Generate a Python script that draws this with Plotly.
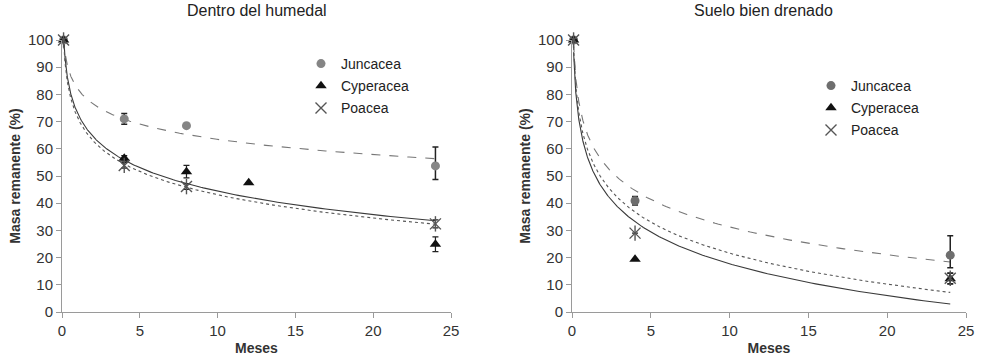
import numpy as np
import plotly.graph_objects as go

# ---------------- data ----------------
# Left panel: "Dentro del humedal"
L_jun_x = [0.1, 4, 8, 24]
L_jun_y = [100, 71, 68.5, 53.7]
L_jun_ep = [0, 2, 0, 7]
L_jun_em = [0, 2, 0, 5]

L_cyp_x = [0.1, 4, 8, 12, 24]
L_cyp_y = [100, 56.5, 51.6, 47.5, 24.9]
L_cyp_e = [0, 1, 2.3, 0, 2.7]

L_poa_x = [0.1, 4, 8, 24]
L_poa_y = [100, 53.9, 46.1, 32.4]
L_poa_e = [0, 1, 1, 1.5]

# Right panel: "Suelo bien drenado"
R_jun_x = [0.1, 4, 24]
R_jun_y = [100, 40.9, 20.9]
R_jun_ep = [0, 1.6, 7.1]
R_jun_em = [0, 1.6, 4.6]

R_cyp_x = [0.1, 4, 24]
R_cyp_y = [100, 19.4, 12.2]
R_cyp_e = [0, 0, 2]

R_poa_x = [0.1, 4, 24]
R_poa_y = [100, 29.0, 12.4]
R_poa_e = [0, 0, 2]

titles = ["Dentro del humedal", "Suelo bien drenado"]
names = ["Juncacea", "Cyperacea", "Poacea"]
x_ticks = [0, 5, 10, 15, 20, 25]
y_ticks = [0, 10, 20, 30, 40, 50, 60, 70, 80, 90, 100]

# ---------------- styles ----------------
FONT = "Liberation Sans, Arial, sans-serif"
C_JUN = ["#858585", "#6e6e6e"]
C_CYP = "#111111"
C_POA = "#555555"
C_ERR = "#222222"
AXC = "#9a9a9a"


def log_trend(xs, ys):
    b, a = np.polyfit(np.log(xs), ys, 1)
    xx = np.geomspace(min(xs), max(xs), 300)
    return xx, a + b * np.log(xx)


fig = go.Figure()

panels = [
    ("x", "y", "legend", C_JUN[0],
     (L_jun_x, L_jun_y, L_jun_ep, L_jun_em),
     (L_cyp_x, L_cyp_y, L_cyp_e),
     (L_poa_x, L_poa_y, L_poa_e)),
    ("x2", "y2", "legend2", C_JUN[1],
     (R_jun_x, R_jun_y, R_jun_ep, R_jun_em),
     (R_cyp_x, R_cyp_y, R_cyp_e),
     (R_poa_x, R_poa_y, R_poa_e)),
]

for xa, ya, lg, cj, jun, cyp, poa in panels:
    # trendlines
    for (xs, ys), col, dash in [((jun[0], jun[1]), "#777777", "dash"),
                                ((cyp[0], cyp[1]), "#3a3a3a", "solid"),
                                ((poa[0], poa[1]), "#555555", "dot")]:
        tx, ty = log_trend(xs, ys)
        fig.add_trace(go.Scatter(x=tx, y=ty, mode="lines", xaxis=xa, yaxis=ya,
                                 line=dict(color=col, width=1.1, dash=dash),
                                 showlegend=False, hoverinfo="skip"))
    # Juncacea
    fig.add_trace(go.Scatter(
        x=jun[0], y=jun[1], mode="markers", name=names[0], xaxis=xa, yaxis=ya,
        legend=lg, legendgroup=lg + "a", cliponaxis=False,
        marker=dict(symbol="circle", size=9, color=cj),
        error_y=dict(type="data", array=jun[2], arrayminus=jun[3], symmetric=False,
                     color=C_ERR, thickness=1.5, width=3)))
    # Cyperacea
    fig.add_trace(go.Scatter(
        x=cyp[0], y=cyp[1], mode="markers", name=names[1], xaxis=xa, yaxis=ya,
        legend=lg, legendgroup=lg + "b", cliponaxis=False,
        marker=dict(symbol="triangle-up", size=10, color=C_CYP),
        error_y=dict(type="data", array=cyp[2], color=C_ERR, thickness=1.2, width=3)))
    # Poacea (x + vertical stroke)
    fig.add_trace(go.Scatter(
        x=poa[0], y=poa[1], mode="markers", name=names[2], xaxis=xa, yaxis=ya,
        legend=lg, legendgroup=lg + "c", cliponaxis=False,
        marker=dict(symbol="x-thin-open", size=11, color=C_POA,
                    line=dict(width=1.4, color=C_POA)),
        error_y=dict(type="data", array=poa[2], color=C_ERR, thickness=1.2, width=3)))
    fig.add_trace(go.Scatter(
        x=poa[0], y=poa[1], mode="markers", xaxis=xa, yaxis=ya, showlegend=False,
        cliponaxis=False, hoverinfo="skip",
        marker=dict(symbol="line-ns-open", size=11, color=C_POA,
                    line=dict(width=1.4, color=C_POA))))

axis_common = dict(range=[0, 25], tickvals=x_ticks, showgrid=False, zeroline=False,
                   showline=True, linecolor=AXC, linewidth=1, ticks="outside",
                   ticklen=5, tickcolor=AXC, tickfont=dict(size=15, color="#333333"),
                   automargin=False,
                   title=dict(text="<b>Meses</b>", font=dict(size=14, color="#333333"),
                              standoff=6))
yaxis_common = dict(range=[0, 100], tickvals=y_ticks, showgrid=False, zeroline=False,
                    showline=True, linecolor=AXC, linewidth=1, ticks="outside",
                    ticklen=5, tickcolor=AXC, tickfont=dict(size=15, color="#333333"),
                    automargin=False,
                    title=dict(text="<b>Masa remanente (%)</b>",
                               font=dict(size=14, color="#333333"), standoff=4))

W, H = 983, 356
ml, mr, mt, mb = 62, 17, 40, 44
pw = W - ml - mr
ph = H - mt - mb
d1 = [0, (451 - ml) / pw]
d2 = [(572 - ml) / pw, 1.0]

legend_common = dict(font=dict(size=14, color="#222222", family=FONT),
                     bgcolor="rgba(0,0,0,0)", tracegroupgap=1,
                     xanchor="left", yanchor="top", itemwidth=30)

fig.update_layout(
    width=W, height=H,
    margin=dict(l=ml, r=mr, t=mt, b=mb),
    paper_bgcolor="white", plot_bgcolor="white",
    font=dict(family=FONT, color="#333333"),
    xaxis=dict(domain=d1, anchor="y", **axis_common),
    yaxis=dict(anchor="x", **yaxis_common),
    xaxis2=dict(domain=d2, anchor="y2", **axis_common),
    yaxis2=dict(anchor="x2", **yaxis_common),
    legend=dict(x=(301 - ml) / pw, y=(H - mb - 48) / ph, **legend_common),
    legend2=dict(x=(811 - ml) / pw, y=(H - mb - 70) / ph, **legend_common),
    annotations=[
        dict(text=titles[0], x=sum(d1) / 2, y=1, xref="paper", yref="paper",
             xanchor="center", yanchor="bottom", yshift=19, showarrow=False,
             font=dict(size=16, color="#222222")),
        dict(text=titles[1], x=sum(d2) / 2 - 0.006, y=1, xref="paper", yref="paper",
             xanchor="center", yanchor="bottom", yshift=19, showarrow=False,
             font=dict(size=16, color="#222222")),
    ],
)

# remove the default 8px page margin so the figure fills the window exactly
fig.write_html("out.html", config={"displayModeBar": False},
               post_script="document.body.style.margin='0';")
